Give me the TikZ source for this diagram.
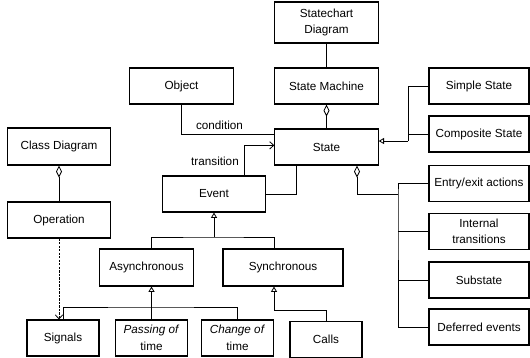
\documentclass[tikz,border=0pt]{standalone}
\usepackage{fontspec}
\setmainfont{Liberation Sans}
\usetikzlibrary{arrows.meta}

\begin{document}
\begin{tikzpicture}[
  x=0.03cm, y=-0.03cm,
  box/.style={draw, line width=0.9pt, minimum width=3.1cm, minimum height=1.08cm,
              align=center, inner sep=1pt, font=\fontsize{10}{14}\selectfont},
  rbox/.style={box, minimum width=3.0cm},
  sbox/.style={box, minimum width=2.16cm},
  lbl/.style={font=\fontsize{10}{12}\selectfont, inner sep=1pt},
  agg/.style={-{Diamond[open,length=3.6mm,width=1.8mm]}},
  gen/.style={-{Triangle[open,length=1.6mm,width=1.8mm]}},
  nav/.style={-{Straight Barb[length=1.2mm,width=2.2mm]}},
  line width=0.7pt
]
  \useasboundingbox (0,0) rectangle (530,357);

  \node[box, minimum height=1.23cm] (chart) at (326.5,22.5) {Statechart\\Diagram};
  \node[box] (machine)  at (326.5,86)  {State Machine};
  \node[box] (state)    at (326.5,147) {State};
  \node[box] (object)   at (181.5,86)  {Object};
  \node[box, minimum height=1.11cm] (classdiag) at (59,146.5) {Class Diagram};
  \node[box] (operation) at (59,220)   {Operation};
  \node[box] (event)    at (214,194)   {Event};
  \node[box, minimum width=2.8cm, minimum height=1.11cm] (async) at (146.5,267.5) {Asynchronous};
  \node[box, minimum width=3.6cm, minimum height=1.11cm] (sync)  at (283,267.5)   {Synchronous};
  \node[sbox] (signals) at (63,338)    {Signals};
  \node[sbox] (passing) at (151.5,338) {\textit{Passing of}\\time};
  \node[sbox] (change)  at (237.5,338) {\textit{Change of}\\time};
  \node[sbox] (calls)   at (326,339.5) {Calls};
  \node[rbox] (simple)    at (479,86)    {Simple State};
  \node[rbox] (composite) at (479,134)   {Composite State};
  \node[rbox] (entry)     at (479,183.5) {Entry/exit actions};
  \node[rbox] (internal)  at (479,231.5) {Internal\\transitions};
  \node[rbox] (substate)  at (479,280)   {Substate};
  \node[rbox] (deferred)  at (479,327)   {Deferred events};

  \node[lbl] (condlbl)  at (219.5,125) {condition};
  \node[lbl] (translbl) at (215,161)   {transition};

  \coordinate (evbus)   at (214,237);
  \coordinate (asbus)   at (151.5,307);
  \coordinate (syncbus) at (274,310);
  \coordinate (kindbus) at (408,141);
  \coordinate (partbus) at (398,194);

  % state machine side
  \draw (chart) -- (machine);
  \draw[agg] (state.north) -- (state.north |- machine.south);
  \draw (object.south) |- ([yshift=0.39cm]state.west);
  \draw[nav] ([xshift=0.9cm]event.north) |- ([yshift=0.05cm]state.west);
  \draw ([xshift=-0.9cm]state.south) |- (event.east);

  % class diagram side
  \draw[agg] (operation.north) -- (classdiag.south);
  \draw[nav, dash pattern=on 2pt off 1pt] (operation.south) -- (operation.south |- signals.north);

  % kinds of event
  \draw[gen] (evbus) -- (event.south);
  \draw (asbus |- async.north) |- (evbus) -| (syncbus |- sync.north);
  \draw[gen] (asbus) -- (asbus |- async.south);
  \draw (signals.north) |- (asbus) -| (change.north);
  \draw (passing.north) -- (asbus);
  \draw[gen] (syncbus) -- (syncbus |- sync.south);
  \draw (syncbus) -| (calls.north);

  % kinds and parts of state
  \draw[gen] (kindbus) -- (kindbus -| state.east);
  \draw (simple.west) -| (kindbus);
  \draw (composite.west) -- (composite.west -| kindbus);
  \draw[agg] (partbus) -| ([xshift=0.915cm]state.south);
  \draw (entry.west) -| (partbus) |- (deferred.west);
  \draw (internal.west) -- (internal.west -| partbus);
  \draw (substate.west) -- (substate.west -| partbus);
\end{tikzpicture}
\end{document}
